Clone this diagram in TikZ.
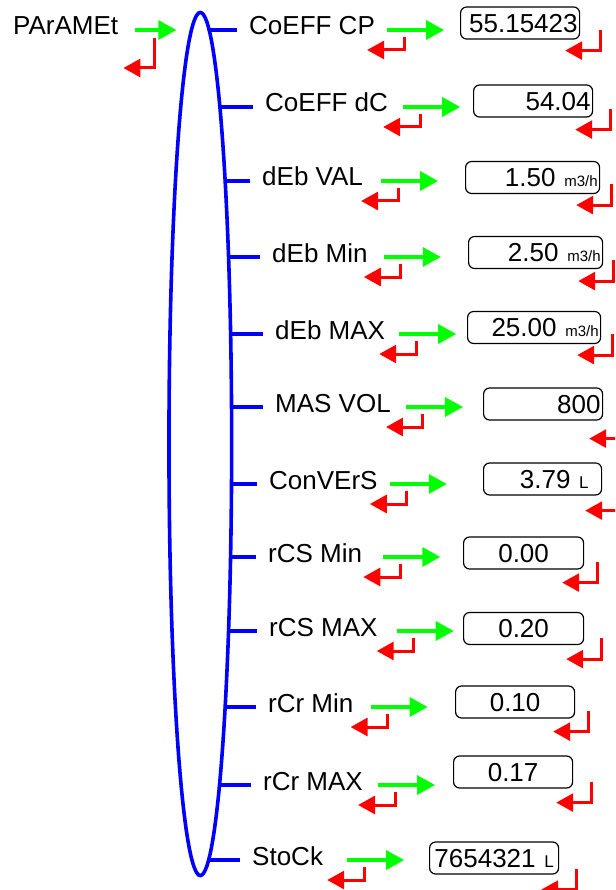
\documentclass[tikz,border=0pt]{standalone}
\usepackage{fontspec}
\setmainfont{Liberation Sans}
\usetikzlibrary{positioning,shapes.geometric,arrows.meta}

\newcommand{\smallunit}[1]{{\fontsize{15}{15}\selectfont #1}}
\newcommand{\litre}{{\fontsize{17}{17}\selectfont L}}

\begin{document}
\begin{tikzpicture}[x=1pt, y=-1pt]
  \tikzset{
    item/.style={anchor=west, font=\fontsize{26}{30}\selectfont, inner xsep=12pt, inner ysep=0pt, text height=15pt, text depth=5pt},
    valbox/.style={draw, anchor=west, rounded corners=6pt, line width=1.2pt, minimum height=32pt, inner xsep=2pt, inner ysep=0pt, text height=18.6pt, text depth=0pt, font=\fontsize{26}{30}\selectfont},
    menuring/.style={draw=blue, fill=white, line width=3.6pt, ellipse, minimum width=62.7pt, minimum height=863pt, inner sep=0pt},
    go/.style={draw=green, line width=3.2pt, -{Triangle[length=18pt, width=19pt]}},
    back/.style={draw=red, line width=3pt, -{Triangle[length=17pt, width=18pt]}},
    branch/.style={draw=blue, line width=3.6pt}
  }
  \useasboundingbox (0,0) rectangle (615,890);
  \clip (0,0) rectangle (615,890);

  \coordinate (axis) at (200.3,444);

  \node[item] (param) at (1,30) {PArAMEt};
  \node[item] (coeffcp) at (237,30) {CoEFF CP};
  \node[item] (coeffdc) at (253,107) {CoEFF dC};
  \node[item] (debval) at (250,181) {dEb VAL};
  \node[item] (debmin) at (260,257) {dEb Min};
  \node[item] (debmax) at (263,334) {dEb MAX};
  \node[item] (masvol) at (263,407) {MAS VOL};
  \node[item] (convers) at (257,484) {ConVErS};
  \node[item] (rcsmin) at (256,557) {rCS Min};
  \node[item] (rcsmax) at (257,631) {rCS MAX};
  \node[item] (rcrmin) at (256,707) {rCr Min};
  \node[item] (rcrmax) at (251,785) {rCr MAX};
  \node[item] (stock) at (240,860) {StoCk};

  % branches, the ring covers their inner part
  \draw[branch] (axis |- coeffcp.west) -- (coeffcp.west);
  \draw[branch] (axis |- coeffdc.west) -- (coeffdc.west);
  \draw[branch] (axis |- debval.west) -- (debval.west);
  \draw[branch] (axis |- debmin.west) -- (debmin.west);
  \draw[branch] (axis |- debmax.west) -- (debmax.west);
  \draw[branch] (axis |- masvol.west) -- (masvol.west);
  \draw[branch] (axis |- convers.west) -- (convers.west);
  \draw[branch] (axis |- rcsmin.west) -- (rcsmin.west);
  \draw[branch] (axis |- rcsmax.west) -- (rcsmax.west);
  \draw[branch] (axis |- rcrmin.west) -- (rcrmin.west);
  \draw[branch] (axis |- rcrmax.west) -- (rcrmax.west);
  \draw[branch] (axis |- stock.west) -- (stock.west);
  \node[menuring] (menu) at (axis) {};

  \node[valbox, text width=115pt, align=right] (vcoeffcp) at (460,23) {55.15423};
  \node[valbox, text width=115pt, align=right] (vcoeffdc) at (473,101) {54.04};
  \node[valbox, text width=130pt, align=right] (vdebval) at (465,177.5) {1.50 \smallunit{m3/h}};
  \node[valbox, text width=130pt, align=right] (vdebmin) at (468,252.5) {2.50 \smallunit{m3/h}};
  \node[valbox, text width=129pt, align=right] (vdebmax) at (467,327.5) {25.00 \smallunit{m3/h}};
  \node[valbox, text width=115pt, align=right] (vmasvol) at (483,404) {800};
  \node[valbox, text width=114pt, align=right] (vconvers) at (483,479) {3.79 \litre\rule{11pt}{0pt}};
  \node[valbox, text width=116pt, align=center] (vrcsmin) at (463,553) {0.00};
  \node[valbox, text width=116pt, align=center] (vrcsmax) at (463,628.5) {0.20};
  \node[valbox, text width=115pt, align=center] (vrcrmin) at (455,702) {0.10};
  \node[valbox, text width=115pt, align=center] (vrcrmax) at (453,772) {0.17};
  \node[valbox, text width=125pt, align=center] (vstock) at (429,858) {7654321 \litre};

  % enter arrows
  \draw[go] ([xshift=5pt]param.east) -- ++(41,0);
  \draw[go] (coeffcp.east) -- ++(57,0);
  \draw[go] ([xshift=3pt]coeffdc.east) -- ++(57,0);
  \draw[go] ([xshift=6pt]debval.east) -- ++(57,0);
  \draw[go] ([xshift=4pt]debmin.east) -- ++(57,0);
  \draw[go] ([xshift=2pt]debmax.east) -- ++(57,0);
  \draw[go] ([xshift=3pt]masvol.east) -- ++(57,0);
  \draw[go] (convers.east) -- ++(57,0);
  \draw[go] ([xshift=9pt]rcsmin.east) -- ++(57,0);
  \draw[go] ([xshift=7pt]rcsmax.east) -- ++(57,0);
  \draw[go] ([xshift=5pt]rcrmin.east) -- ++(57,0);
  \draw[go] ([xshift=3pt]rcrmax.east) -- ++(57,0);
  \draw[go] ([xshift=12pt]stock.east) -- ++(57,0);

  % return arrows under the labels
  \draw[back] ([shift={(24,8)}]param.east) |- ++(-31,30);
  \draw[back] ([shift={(17,7)}]coeffcp.east) |- ++(-37,13);
  \draw[back] ([shift={(20,7)}]coeffdc.east) |- ++(-37,13);
  \draw[back] ([shift={(23,7)}]debval.east) |- ++(-37,13);
  \draw[back] ([shift={(21,7)}]debmin.east) |- ++(-37,13);
  \draw[back] ([shift={(19,7)}]debmax.east) |- ++(-37,13);
  \draw[back] ([shift={(20,7)}]masvol.east) |- ++(-37,13);
  \draw[back] ([shift={(17,7)}]convers.east) |- ++(-37,13);
  \draw[back] ([shift={(26,7)}]rcsmin.east) |- ++(-37,13);
  \draw[back] ([shift={(24,7)}]rcsmax.east) |- ++(-37,13);
  \draw[back] ([shift={(22,7)}]rcrmin.east) |- ++(-37,13);
  \draw[back] ([shift={(20,7)}]rcrmax.east) |- ++(-37,13);
  \draw[back] ([shift={(29,7)}]stock.east) |- ++(-37,13);

  % return arrows beside the values
  \draw[back] ([shift={(20,-10)}]vcoeffcp.south east) |- ++(-35,21);
  \draw[back] ([shift={(17,-9)}]vcoeffdc.south east) |- ++(-35,21);
  \draw[back] ([shift={(11,-10)}]vdebval.south east) |- ++(-35,21);
  \draw[back] ([shift={(10,-9)}]vdebmin.south east) |- ++(-35,21);
  \draw[back] ([shift={(11,-10)}]vdebmax.south east) |- ++(-35,21);
  \draw[back] ([shift={(21,-3)}]vmasvol.south east) |- ++(-35,21);
  \draw[back] ([shift={(18,-6)}]vconvers.south east) |- ++(-35,21);
  \draw[back] ([shift={(13,-8)}]vrcsmin.south east) |- ++(-35,21);
  \draw[back] ([shift={(17,-7)}]vrcsmax.south east) |- ++(-35,21);
  \draw[back] ([shift={(13,-8)}]vrcrmin.south east) |- ++(-35,21);
  \draw[back] ([shift={(18,-7)}]vrcrmax.south east) |- ++(-35,21);
  \draw[back] ([shift={(17,-6)}]vstock.south east) |- ++(-35,21);
\end{tikzpicture}
\end{document}
